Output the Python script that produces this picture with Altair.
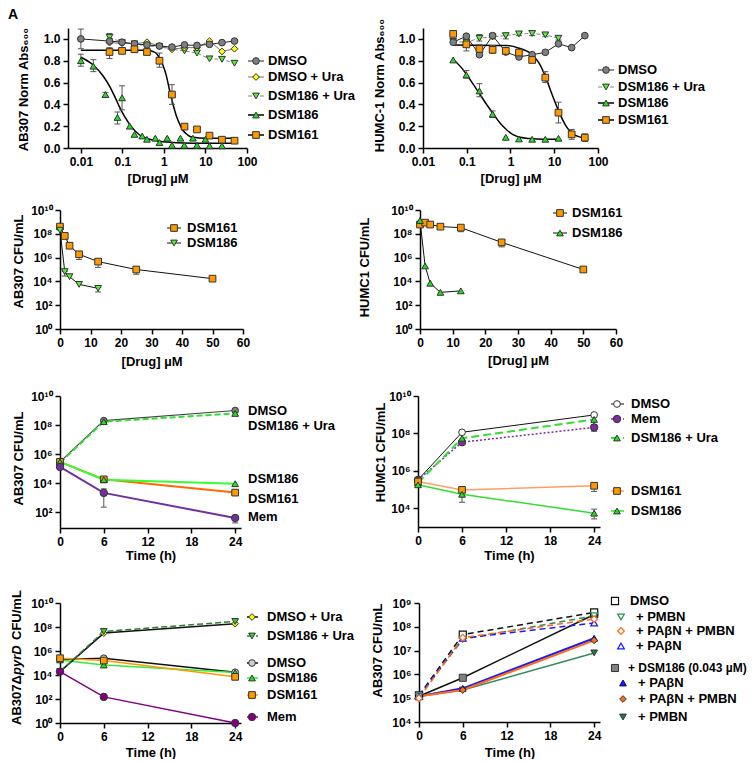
import altair as alt
import pandas as pd

FONT = "Liberation Sans"

# ================= values =================
# Panel A : AB307, normalised Abs600 vs [Drug] (uM)
A_x_dmso = [0.01, 0.049, 0.098, 0.195, 0.39, 0.78, 1.56, 3.125, 6.25, 12.5, 25, 50]
A_dmso = [1.00, 0.98, 0.97, 0.955, 0.945, 0.935, 0.925, 0.945, 0.94, 0.95, 0.966, 0.98]
A_x = [0.049, 0.098, 0.195, 0.39, 0.78, 1.56, 3.125, 6.25, 12.5, 25, 50]
A_dmso_ura = [0.966, 0.96, 0.955, 0.97, 0.935, 0.905, 0.92, 0.92, 0.98, 0.885, 0.91]
A_dsm186_ura = [1.015, 0.966, 0.955, 0.935, 0.93, 0.905, 0.89, 0.87, 0.817, 0.813, 0.777]
A_dsm161 = [0.88, 0.89, 0.905, 0.88, 0.80, 0.49, 0.196, 0.17, 0.113, 0.076, 0.067]
A_x_dsm186 = [0.01, 0.02, 0.039, 0.076, 0.098, 0.15, 0.195, 0.30, 0.39, 0.62, 0.78,
              1.2, 1.56, 2.5, 3.1, 5.0, 6.25, 10.0, 12.5, 25]
A_dsm186 = [0.80, 0.75, 0.49, 0.28, 0.46, 0.20, 0.125, 0.11, 0.08, 0.09, 0.05,
            0.09, 0.025, 0.09, 0.025, 0.09, 0.025, 0.08, 0.02, 0.02]
A_fit186_x = [0.01, 0.0198, 0.0343, 0.0497, 0.0655, 0.0862, 0.1135, 0.164, 0.26, 0.45, 0.785, 1.97, 12.4, 50]
A_fit186_y = [0.832, 0.761, 0.66, 0.563, 0.471, 0.373, 0.287, 0.196, 0.119, 0.080, 0.061, 0.049, 0.043, 0.043]
A_fit161_x = [0.01, 0.377, 0.545, 0.655, 0.785, 0.942, 1.13, 1.36, 1.63, 1.96, 2.35, 2.83, 3.76, 4.98, 10.4, 50]
A_fit161_y = [0.896, 0.896, 0.884, 0.869, 0.823, 0.761, 0.670, 0.532, 0.410, 0.303, 0.226, 0.165, 0.119, 0.098, 0.089, 0.089]
A_err = [("DMSO", 0.01, 0.91, 1.09),
         ("DSM186", 0.01, 0.75, 0.86), ("DSM186", 0.02, 0.70, 0.81), ("DSM186", 0.039, 0.47, 0.51),
         ("DSM186", 0.076, 0.22, 0.33), ("DSM186", 0.098, 0.35, 0.57),
         ("DSM161", 0.049, 0.82, 0.92), ("DSM161", 0.78, 0.74, 0.87), ("DSM161", 1.56, 0.40, 0.58),
         ("DSM186 + Ura", 0.049, 0.98, 1.05)]

# Panel B : HUMC-1, normalised Abs600 vs [Drug] (uM)
B_x = [0.049, 0.098, 0.195, 0.39, 0.78, 1.56, 3.125, 6.25, 12.5, 25, 50]
B_dmso = [0.97, 1.025, 0.855, 1.03, 0.88, 0.835, 0.855, 0.877, 0.955, 0.92, 1.03]
B_dsm186_ura = [0.976, 0.97, 1.006, 1.02, 1.03, 1.046, 1.05, 1.037, 1.006]
B_dsm186 = [0.807, 0.67, 0.523, 0.31, 0.098, 0.083, 0.08, 0.08, 0.089]
B_dsm161 = [1.046, 0.95, 0.908, 0.90, 0.89, 0.875, 0.807, 0.645, 0.324, 0.125, 0.095]
B_fit186_x = [0.0464, 0.072, 0.098, 0.144, 0.204, 0.29, 0.411, 0.582, 0.825, 1.17, 1.66, 2.79, 5.6, 12.5]
B_fit186_y = [0.82, 0.746, 0.676, 0.578, 0.486, 0.394, 0.309, 0.226, 0.165, 0.12, 0.098, 0.086, 0.08, 0.08]
B_fit161_x = [0.0464, 0.78, 1.57, 3.17, 4.5, 6.3, 9.0, 12.8, 18.0, 25.5, 36.2, 50]
B_fit161_y = [0.945, 0.94, 0.915, 0.853, 0.777, 0.654, 0.486, 0.333, 0.21, 0.135, 0.104, 0.089]
B_err = [("DSM186 + Ura", 0.098, 0.94, 1.0), ("DSM186 + Ura", 0.195, 0.98, 1.04), ("DSM186 + Ura", 0.39, 1.0, 1.04),
         ("DSM186 + Ura", 0.78, 1.0, 1.05), ("DSM186 + Ura", 1.56, 1.03, 1.06), ("DSM186 + Ura", 3.125, 1.03, 1.07),
         ("DSM186 + Ura", 6.25, 1.02, 1.05), ("DSM186 + Ura", 12.5, 0.99, 1.03),
         ("DSM186", 0.098, 0.64, 0.71), ("DSM186", 0.195, 0.47, 0.59), ("DSM186", 0.39, 0.28, 0.34),
         ("DSM161", 0.098, 0.89, 1.0), ("DSM161", 0.195, 0.87, 0.95), ("DSM161", 0.39, 0.87, 0.94),
         ("DSM161", 6.25, 0.60, 0.70), ("DSM161", 12.5, 0.23, 0.42), ("DSM161", 25, 0.08, 0.17),
         ("DSM161", 50, 0.06, 0.13)]

# Panel C : AB307 CFU/mL vs [Drug]
C_x161 = [0, 1.56, 3.125, 6.25, 12.5, 25, 50]
C_dsm161 = [4e8, 6.6e7, 1e7, 1.9e6, 4.6e5, 1e5, 1.7e4]
C_x186 = [0, 1.56, 3.125, 6.25, 12.5]
C_dsm186 = [2e8, 6.6e4, 2.5e4, 5.6e3, 2.6e3]
C_err = [("DSM161", 6.25, 7e5, 2.5e6), ("DSM161", 12.5, 1.5e5, 6e5), ("DSM161", 25, 4e4, 1.3e5),
         ("DSM186", 1.56, 2.8e4, 7e4), ("DSM186", 12.5, 1.3e3, 3e3)]

# Panel D : HUMC1 CFU/mL vs [Drug]
D_x161 = [0, 1.56, 3.125, 6.25, 12.5, 25, 50]
D_dsm161 = [6e8, 8.7e8, 6e8, 4e8, 3.3e8, 1.9e7, 1e5]
D_x186 = [0, 1.56, 3.125, 6.25, 12.5]
D_dsm186 = [1.3e9, 2e5, 7e3, 1.2e3, 1.6e3]
D_err = [("DSM161", 12.5, 1.5e8, 4e8), ("DSM161", 25, 8e6, 2.5e7)]

# Time courses (h)
T = [0, 6, 24]
E_dmso = [2.9e5, 2e8, 1e9]
E_dsm186_ura = [2.5e5, 1.7e8, 6.3e8]
E_dsm186 = [2.9e5, 1.7e4, 9e3]
E_dsm161 = [2.9e5, 1.8e4, 2.2e3]
E_mem = [1.3e5, 2.1e3, 39]
E_err = [("Mem", 6, 220, 4000), ("Mem", 24, 18, 60)]

F_dmso = [3.3e5, 1.15e8, 9.7e8]
F_mem = [3.3e5, 3.4e7, 2.1e8]
F_dsm186_ura = [2.3e5, 5.5e7, 5.6e8]
F_dsm161 = [2.7e5, 9.6e4, 1.6e5]
F_dsm186 = [1.8e5, 5.6e4, 5.5e3]
F_err = [("DSM186", 6, 2.1e4, 8e4), ("DSM186", 24, 2.7e3, 9e3), ("DSM161", 24, 8e4, 2.2e5),
         ("Mem", 24, 1.3e8, 3e8), ("DSM186 + Ura", 24, 3e8, 8e8)]

G_dmso_ura = [1.9e4, 3.1e7, 1.9e8]
G_dsm186_ura = [1.9e4, 4.2e7, 2.9e8]
G_dmso = [2e5, 2.5e5, 1.7e4]
G_dsm186 = [1.8e5, 6.8e4, 1.6e4]
G_dsm161 = [2.5e5, 1.6e5, 7e3]
G_mem = [1.9e4, 150, 1]

H_dmso = [1.3e5, 4.7e7, 4e8]
H_pmbn = [1.2e5, 3e7, 2.9e8]
H_papn_pmbn = [1e5, 3.5e7, 2.1e8]
H_papn = [1.2e5, 3.3e7, 1.45e8]
H_dsm = [1.2e5, 7.2e5, 3.3e8]
H_dsm_papn = [1.2e5, 2.6e5, 3.3e7]
H_dsm_papn_pmbn = [1.2e5, 2.2e5, 2.7e7]
H_dsm_pmbn = [1.2e5, 2.2e5, 8e6]

# ================= styling helpers =================
GRAY = "#808080"; YEL = "#ffff00"; LGREEN = "#55ee33"; GREEN = "#22e022"
ORANGE = "#ff9900"; PURPLE = "#7030a0"; DARK = "#333333"

EXP = "round(log(datum.value)/LN10)"
POW = ("'10' + (" + EXP + " >= 10 ? '\u00b9\u2070' : substring('\u2070\u00b9\u00b2\u00b3\u2074\u2075\u2076\u2077\u2078\u2079', "
       + EXP + ", " + EXP + " + 1))")
ONE = pd.DataFrame({"k": [0]})


def S(name, x, y, shape, fill, lc=None, lw=1.0, dash=None, stroke=DARK, size=45, fit=None, sw=1.0):
    return dict(name=name, x=x, y=y, shape=shape, fill=fill, lc=lc, lw=lw, dash=dash,
                stroke=stroke, size=size, fit=fit, sw=sw)


def legend(items, series, dx, top):
    sty = {s["name"]: s for s in series}
    out = []
    for it in items:
        s = sty.get(it.get("ref", it["text"]))
        y = it["y"] + top
        if it.get("line") and s is not None:
            lc = s["lc"] or "black"
            kw = dict(color=lc, strokeWidth=s["lw"] if s["lc"] else 1.5)
            if s["dash"]:
                kw["strokeDash"] = s["dash"]
            out.append(alt.Chart(ONE).mark_rule(**kw).encode(
                x=alt.value(it["line"][0] + dx), x2=alt.value(it["line"][1] + dx), y=alt.value(y)))
        if it.get("xm") is not None and s is not None:
            out.append(alt.Chart(ONE).mark_point(
                shape=s["shape"], filled=True, fill=s["fill"], stroke=s["stroke"], strokeWidth=s["sw"],
                size=s["size"], opacity=1).encode(x=alt.value(it["xm"] + dx), y=alt.value(y)))
        out.append(alt.Chart(ONE).mark_text(
            text=it["text"], align="left", baseline="middle", font=FONT, fontSize=it.get("fs", 13),
            fontWeight="bold", color="black").encode(x=alt.value(it["xt"] + dx), y=alt.value(y)))
    return out


def panel(series, errs, xs, ys, xax, yax, w, h, leg, extra=(), dx=0, top=0):
    xax = dict(xax)
    yax = dict(yax)
    if yax.get("title") is not None:
        yax.update(titleAngle=270, titleAlign="center", titleBaseline="alphabetic")
        yax["titleY"] = yax["titleY"] + top
    if dx:
        yax["offset"] = -dx
    xax.setdefault("titleBaseline", "middle")
    xsc = alt.Scale(nice=False, range=[dx, dx + w], **xs)
    ysc = alt.Scale(nice=False, range=[top + h, top], **ys)
    X = alt.X("x:Q", scale=xsc, axis=alt.Axis(**xax))
    Y = alt.Y("y:Q", scale=ysc, axis=alt.Axis(**yax))
    layers = []
    for s in series:
        if s["lc"]:
            kw = dict(color=s["lc"], strokeWidth=s["lw"])
            if s["dash"]:
                kw["strokeDash"] = s["dash"]
            layers.append(alt.Chart(pd.DataFrame({"x": s["x"], "y": s["y"]})).mark_line(**kw).encode(x=X, y=Y))
    for s in series:
        if s["fit"]:
            fx, fy = s["fit"]
            layers.append(alt.Chart(pd.DataFrame({"x": fx, "y": fy})).mark_line(
                color="black", strokeWidth=1.5, interpolate="monotone").encode(x=X, y=Y))
    if errs:
        edf = pd.DataFrame(errs, columns=["s", "x", "lo", "hi"])
        Ylo = alt.Y("lo:Q", scale=ysc, axis=alt.Axis(**yax))
        Yhi = alt.Y("hi:Q", scale=ysc, axis=alt.Axis(**yax))
        layers.append(alt.Chart(edf).mark_rule(color="#555555", strokeWidth=1).encode(x=X, y=Ylo, y2="hi:Q"))
        layers.append(alt.Chart(edf).mark_tick(orient="horizontal", size=6, thickness=1, color="#555555",
                                               opacity=1).encode(x=X, y=Ylo))
        layers.append(alt.Chart(edf).mark_tick(orient="horizontal", size=6, thickness=1, color="#555555",
                                               opacity=1).encode(x=X, y=Yhi))
    for s in series:
        layers.append(alt.Chart(pd.DataFrame({"x": s["x"], "y": s["y"]})).mark_point(
            shape=s["shape"], filled=True, fill=s["fill"], stroke=s["stroke"], strokeWidth=s["sw"],
            size=s["size"], opacity=1).encode(x=X, y=Y))
    layers += legend(leg, series, dx, top)
    layers += list(extra)
    return alt.layer(*layers).properties(width=dx + w, height=top + h)


DRUG = "[Drug] \u00b5M"
TIME = "Time (h)"
LOGX = [0.01, 0.1, 1, 10, 100]
FRAC = [0, 0.2, 0.4, 0.6, 0.8, 1.0]
DEC10 = [1, 1e2, 1e4, 1e6, 1e8, 1e10]
TX = [0, 6, 12, 18, 24]
ROWSP = 40  # uniform grid row spacing; extra top space per row restores the figure's gaps

# ---------------- Panel A ----------------
sA = [S("DSM186 + Ura", A_x, A_dsm186_ura, "triangle-down", LGREEN, lc="#888888", dash=[4, 2]),
      S("DMSO + Ura", A_x, A_dmso_ura, "diamond", YEL, lc="#777777"),
      S("DMSO", A_x_dmso, A_dmso, "circle", GRAY, lc="#222222"),
      S("DSM186", A_x_dsm186, A_dsm186, "triangle-up", GREEN, fit=(A_fit186_x, A_fit186_y)),
      S("DSM161", A_x, A_dsm161, "square", ORANGE, fit=(A_fit161_x, A_fit161_y))]
legA = [dict(text=t, y=y, line=(180, 196), xm=188, xt=200)
        for t, y in zip(["DMSO", "DMSO + Ura", "DSM186 + Ura", "DSM186", "DSM161"], [33, 49, 68, 87, 107])]
glyph = alt.Chart(ONE).mark_text(text="A", align="left", baseline="top", font=FONT, fontSize=14,
                                 fontWeight="bold", color="black").encode(x=alt.value(-52), y=alt.value(-20))
pA = panel(sA, A_err, dict(type="log", domain=[0.0049, 100]), dict(domain=[0, 1.1], zero=False),
           dict(title=DRUG, values=LOGX, format="~g", titleY=30),
           dict(title="AB307 Norm Abs\u2086\u2080\u2080", values=FRAC, format=".1f", titleX=-41, titleY=61),
           179, 120, legA, [glyph], dx=8, top=0)

# ---------------- Panel B ----------------
sB = [S("DSM186 + Ura", B_x[:9], B_dsm186_ura, "triangle-down", LGREEN, lc="#888888", dash=[4, 2]),
      S("DMSO", B_x, B_dmso, "circle", GRAY, lc="#222222"),
      S("DSM186", B_x[:9], B_dsm186, "triangle-up", GREEN, fit=(B_fit186_x, B_fit186_y)),
      S("DSM161", B_x, B_dsm161, "square", ORANGE, fit=(B_fit161_x, B_fit161_y))]
legB = [dict(text=t, y=y, line=(175, 191), xm=183, xt=195)
        for t, y in zip(["DMSO", "DSM186 + Ura", "DSM186", "DSM161"], [42, 59, 75, 92])]
pB = panel(sB, B_err, dict(type="log", domain=[0.01, 100]), dict(domain=[0, 1.1], zero=False),
           dict(title=DRUG, values=LOGX, format="~g", titleY=30),
           dict(title="HUMC-1 Norm Abs\u2086\u2080\u2080", values=FRAC, format=".1f", titleX=-40, titleY=57),
           175, 120, legB, dx=5, top=0)

# ---------------- Panel C ----------------
TOP2 = 62 - ROWSP
sC = [S("DSM161", C_x161, C_dsm161, "square", ORANGE, lc="#111111"),
      S("DSM186", C_x186, C_dsm186, "triangle-down", LGREEN, lc="#111111")]
legC = [dict(text=t, y=y, line=(107, 121), xm=114, xt=127) for t, y in zip(["DSM161", "DSM186"], [18, 33])]
pC = panel(sC, C_err, dict(domain=[0, 60], zero=False), dict(type="log", domain=[1, 1e10]),
           dict(title=DRUG, values=[0, 10, 20, 30, 40, 50, 60], titleY=32),
           dict(title="AB307 CFU/mL", values=DEC10, labelExpr=POW, titleX=-38, titleY=51),
           183, 119, legC, top=TOP2)

# ---------------- Panel D ----------------
sD = [S("DSM161", D_x161, D_dsm161, "square", ORANGE, lc="#111111"),
      S("DSM186", D_x186, D_dsm186, "triangle-up", GREEN, lc="#111111")]
legD = [dict(text=t, y=y, line=(133, 147), xm=140, xt=152) for t, y in zip(["DSM161", "DSM186"], [3, 23])]
pD = panel(sD, D_err, dict(domain=[0, 60], zero=False), dict(type="log", domain=[1, 1e10]),
           dict(title=DRUG, values=[0, 10, 20, 30, 40, 50, 60], titleY=31),
           dict(title="HUMC1 CFU/mL", values=DEC10, labelExpr=POW, titleX=-52, titleY=57),
           196, 119, legD, dx=2, top=TOP2)

# ---------------- Panel E ----------------
TOP3 = 67 - ROWSP
sE = [S("DMSO", T, E_dmso, "circle", GRAY, lc="#444444", lw=1.2),
      S("DSM186 + Ura", T, E_dsm186_ura, "triangle-up", GREEN, lc="#33dd33", lw=2, dash=[6, 3]),
      S("DSM161", T, E_dsm161, "square", ORANGE, lc="#ff6a00", lw=2),
      S("DSM186", T, E_dsm186, "triangle-up", GREEN, lc="#33ff33", lw=2),
      S("Mem", T, E_mem, "circle", PURPLE, lc=PURPLE, lw=2, size=55)]
legE = [dict(text=t, y=y, xt=188)
        for t, y in zip(["DMSO", "DSM186 + Ura", "DSM186", "DSM161", "Mem"], [15, 29.5, 83, 103, 121])]
pE = panel(sE, E_err, dict(domain=[0, 24.8], zero=False), dict(type="log", domain=[8, 1e10]),
           dict(title=TIME, values=TX, titleY=27),
           dict(title="AB307 CFU/mL", values=[1e2, 1e4, 1e6, 1e8, 1e10], labelExpr=POW, titleX=-38, titleY=62),
           181, 132, legE, top=TOP3)

# ---------------- Panel F ----------------
sF = [S("DMSO", T, F_dmso, "circle", "white", lc="#111111", lw=1),
      S("Mem", T, F_mem, "circle", "#7b2d9b", lc="#7b2d9b", lw=1.5, dash=[2, 2], size=55),
      S("DSM186 + Ura", T, F_dsm186_ura, "triangle-up", GREEN, lc="#33dd33", lw=2, dash=[8, 4]),
      S("DSM161", T, F_dsm161, "square", ORANGE, lc="#ffa060", lw=1.5),
      S("DSM186", T, F_dsm186, "triangle-up", GREEN, lc="#33dd33", lw=1.5)]
legF = [dict(text=t, y=y, line=(193, 206), xm=199, xt=213)
        for t, y in zip(["DMSO", "Mem", "DSM186 + Ura", "DSM161", "DSM186"], [8, 23, 42, 95, 115])]
pF = panel(sF, F_err, dict(domain=[0, 24.8], zero=False), dict(type="log", domain=[1e3, 1e10]),
           dict(title=TIME, values=TX, titleY=28),
           dict(title="HUMC1 CFU/mL", values=[1e4, 1e6, 1e8, 1e10], labelExpr=POW, titleX=-34, titleY=56),
           182, 131, legF, top=TOP3)

# ---------------- Panel G ----------------
TOP4 = 75 - ROWSP
sG = [S("DMSO", T, G_dmso, "circle", "#d0d0d0", lc="#111111", lw=1.5),
      S("DSM186", T, G_dsm186, "triangle-up", GREEN, lc="#33ee33", lw=1.5),
      S("DSM161", T, G_dsm161, "square", ORANGE, lc=ORANGE, lw=1.5),
      S("DMSO + Ura", T, G_dmso_ura, "diamond", YEL, lc="#111111", lw=1.5),
      S("DSM186 + Ura", T, G_dsm186_ura, "triangle-down", "#33cc33", lc="#2e7d32", lw=1.5, dash=[6, 3]),
      S("Mem", T, G_mem, "circle", "#800080", lc="#800080", lw=1.5, size=55)]
legG = [dict(text=t, y=y, line=(187, 198), xm=192, xt=207)
        for t, y in zip(["DMSO + Ura", "DSM186 + Ura", "DMSO", "DSM186", "DSM161", "Mem"], [14, 33, 60, 75, 92, 114])]
gtitle = []
for txt, y0, style in [("AB307\u0394", 122, "normal"), ("pyrD", 72, "italic"), ("CFU/mL", 37, "normal")]:
    gtitle.append(alt.Chart(ONE).mark_text(text=txt, angle=270, align="left", baseline="alphabetic", font=FONT,
                                           fontSize=13, fontWeight="bold", fontStyle=style, color="black").encode(
        x=alt.value(-39), y=alt.value(y0 + TOP4)))
pG = panel(sG, [], dict(domain=[0, 24.8], zero=False), dict(type="log", domain=[1, 1e10]),
           dict(title=TIME, values=TX, titleY=29),
           dict(title=None, values=DEC10, labelExpr=POW),
           181, 120, legG, gtitle, top=TOP4)

# ---------------- Panel H ----------------
BLUE = "#1a1aff"; HGREEN = "#2e8b57"; HORANGE = "#ff6a13"
sH = [S("+ DSM186 (0.043 \u00b5M)", T, H_dsm, "square", GRAY, lc="#111111", lw=1.5, size=50),
      S("+ PMBN s", T, H_dsm_pmbn, "triangle-down", "#1e7b4a", lc=HGREEN, lw=1.5),
      S("+ PA\u03b2N s", T, H_dsm_papn, "triangle-up", BLUE, lc=BLUE, lw=2, stroke="#000080"),
      S("+ PA\u03b2N + PMBN s", T, H_dsm_papn_pmbn, "diamond", HORANGE, lc=HORANGE, lw=2),
      S("DMSO", T, H_dmso, "square", "white", lc="#111111", lw=1.5, dash=[6, 4], stroke="#111111", size=50, sw=1.2),
      S("+ PMBN", T, H_pmbn, "triangle-down", "white", lc=HGREEN, lw=1.5, dash=[6, 4], stroke=HGREEN, sw=1.2),
      S("+ PA\u03b2N", T, H_papn, "triangle-up", "white", lc=BLUE, lw=1.5, dash=[6, 4], stroke=BLUE, sw=1.2),
      S("+ PA\u03b2N + PMBN", T, H_papn_pmbn, "diamond", "white", lc=HORANGE, lw=1.5, dash=[6, 4],
        stroke=HORANGE, sw=1.2)]
legH = [dict(text="DMSO", y=-2, xm=196, xt=211),
        dict(text="+ PMBN", y=14, xm=202, xt=217),
        dict(text="+ PA\u03b2N + PMBN", y=28, xm=202, xt=217),
        dict(text="+ PA\u03b2N", y=43, xm=202, xt=217),
        dict(text="+ DSM186 (0.043 \u00b5M)", y=65, xm=196, xt=209, fs=12),
        dict(text="+ PA\u03b2N", ref="+ PA\u03b2N s", y=80, xm=204, xt=219),
        dict(text="+ PA\u03b2N + PMBN", ref="+ PA\u03b2N + PMBN s", y=96, xm=204, xt=219),
        dict(text="+ PMBN", ref="+ PMBN s", y=114, xm=204, xt=219)]
pH = panel(sH, [], dict(domain=[0, 24.8], zero=False), dict(type="log", domain=[1e4, 1e9]),
           dict(title=TIME, values=TX, titleY=30),
           dict(title="AB307 CFU/mL", values=[1e4, 1e5, 1e6, 1e7, 1e8, 1e9], labelExpr=POW, titleX=-38, titleY=47),
           181, 119, legH, dx=1, top=TOP4)

# ---------------- layout: one 2-column grid, flush bounds ----------------
chart = alt.concat(pA, pB, pC, pD, pE, pF, pG, pH, columns=2, bounds="flush",
                   spacing={"row": ROWSP, "column": 171}).properties(
    padding={"left": 0, "top": 0, "right": 0, "bottom": 0}
).configure_view(stroke=None).configure_axis(
    domainColor="black", domainWidth=1.5, tickColor="black", tickWidth=1.5, tickSize=5,
    labelFont=FONT, labelFontSize=12, labelFontWeight="bold", labelColor="black", labelPadding=3,
    titleFont=FONT, titleFontSize=13, titleFontWeight="bold", titleColor="black",
    grid=False, labelFlush=False, labelOverlap=False)

chart.save("out.html", embed_options={"renderer": "svg", "actions": False})
